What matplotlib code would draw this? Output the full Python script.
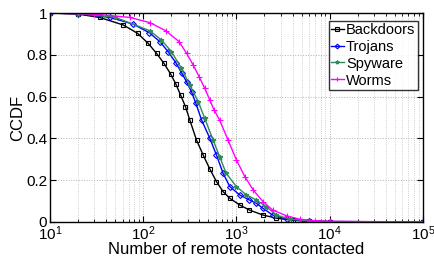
import matplotlib
matplotlib.use("Agg")
import matplotlib.pyplot as plt
from matplotlib.ticker import LogLocator, FixedLocator, FuncFormatter

plt.rcParams['font.family'] = ['Liberation Sans', 'DejaVu Sans']
plt.rcParams['mathtext.fontset'] = 'custom'
plt.rcParams['mathtext.rm'] = 'Liberation Sans'

# ============= DATA =============
backdoors_x = [10, 20, 34, 61, 87, 113, 139, 167, 197, 224, 252, 284, 316, 373, 440,
               519, 611, 719, 851, 1086, 1380, 1930, 2690, 4000, 6000, 10000, 100000]
backdoors_y = [1.0, 0.995, 0.979, 0.943, 0.903, 0.855, 0.807, 0.759, 0.708, 0.66, 0.607,
               0.552, 0.488, 0.392, 0.32, 0.253, 0.193, 0.145, 0.113, 0.081, 0.057,
               0.033, 0.018, 0.008, 0.003, 0.001, 0.0]

trojans_x = [10, 20, 44, 78, 116, 151, 185, 224, 258, 292, 330, 367, 423, 519, 611,
             719, 851, 1086, 1380, 1640, 1930, 2450, 3470, 6000, 10000, 100000]
trojans_y = [1.0, 0.997, 0.979, 0.947, 0.906, 0.863, 0.815, 0.762, 0.714, 0.671, 0.623,
             0.568, 0.488, 0.4, 0.32, 0.233, 0.169, 0.129, 0.105, 0.089, 0.065,
             0.033, 0.013, 0.005, 0.002, 0.0]

spyware_x = [10, 20, 50, 118, 157, 201, 257, 316, 389, 457, 562, 661, 776, 1000, 1282,
             1640, 2090, 2690, 3720, 6000, 10000, 100000]
spyware_y = [1.0, 0.997, 0.98, 0.915, 0.871, 0.815, 0.735, 0.655, 0.576, 0.496, 0.392,
             0.312, 0.233, 0.169, 0.129, 0.105, 0.073, 0.033, 0.013, 0.005, 0.002, 0.0]

worms_x = [10, 30, 72, 118, 175, 243, 292, 344, 398, 457, 518, 576, 660, 813,
           1000, 1230, 1514, 1930, 2450, 3470, 4790, 7000, 10000, 100000]
worms_y = [1.0, 0.995, 0.979, 0.954, 0.915, 0.863, 0.807, 0.751, 0.695, 0.64, 0.584,
           0.536, 0.488, 0.392, 0.297, 0.217, 0.153, 0.097, 0.057, 0.029, 0.013,
           0.006, 0.003, 0.0]

series = [
    ('Backdoors', backdoors_x, backdoors_y, 'black', 's', 3.0),
    ('Trojans', trojans_x, trojans_y, 'blue', 'D', 3.0),
    ('Spyware', spyware_x, spyware_y, '#2e8b57', '*', 3.5),
    ('Worms', worms_x, worms_y, 'magenta', '+', 4.0),
]

# ============= PLOT =============
fig = plt.figure(figsize=(4.35, 2.56), dpi=100)
ax = fig.add_axes([0.115, 0.133, 0.857, 0.816])

for name, xs, ys, color, marker, ms in series:
    face = 'none' if marker in ('s', 'D') else color
    ax.plot(xs, ys, color=color, linewidth=1.0, marker=marker, markersize=ms,
            markerfacecolor=face, markeredgecolor=color, markeredgewidth=0.8,
            label=name)

ax.set_xscale('log')
ax.set_xlim(10, 1e5)
ax.set_ylim(0, 1)

ax.xaxis.set_major_locator(LogLocator(base=10, numticks=10))
ax.xaxis.set_minor_locator(LogLocator(base=10, subs=range(2, 10), numticks=50))
ax.yaxis.set_major_locator(FixedLocator([0, 0.2, 0.4, 0.6, 0.8, 1.0]))
ax.yaxis.set_major_formatter(FuncFormatter(lambda v, p: '%g' % v))

ax.grid(True, which='major', linestyle=':', color='#b0b0b0', linewidth=0.7)
ax.grid(True, which='minor', axis='x', linestyle=':', color='#c0c0c0', linewidth=0.6)

ax.tick_params(which='both', direction='in', top=True, right=True, labelsize=11)
ax.tick_params(which='minor', length=2)
ax.tick_params(which='major', length=4, pad=2)
for sp in ax.spines.values():
    sp.set_linewidth(1.0)

ax.set_xlabel('Number of remote hosts contacted', fontsize=12, labelpad=-1)
ax.set_ylabel('CCDF', fontsize=12, labelpad=1)

leg = ax.legend(loc='upper right', bbox_to_anchor=(0.986, 0.964), fontsize=10.5,
                frameon=True, fancybox=False, edgecolor='black', handlelength=0.9,
                handletextpad=0.15, borderpad=0.15, labelspacing=0.2,
                borderaxespad=0, markerscale=0.8)
leg.get_frame().set_linewidth(1.0)

fig.savefig('out.png', dpi=100)
